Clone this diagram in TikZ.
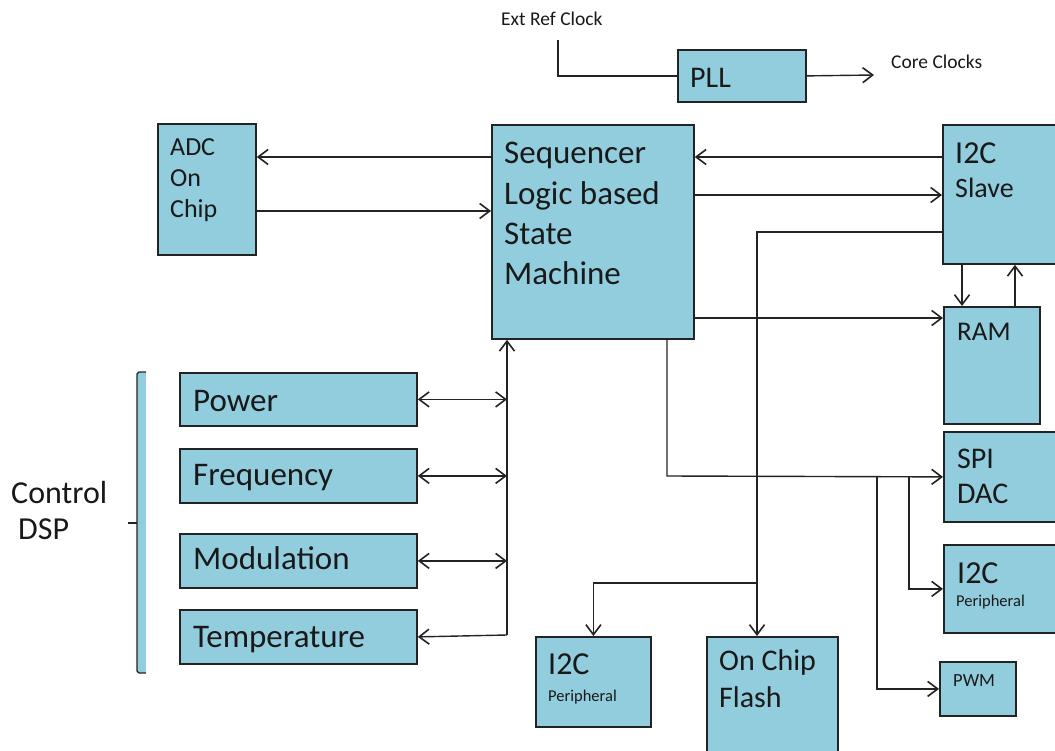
\documentclass[tikz,border=0pt]{standalone}
\usepackage{fontspec}
\setmainfont{Carlito}
\usetikzlibrary{arrows.meta}
\definecolor{boxc}{RGB}{146,205,221}
\definecolor{edgec}{RGB}{35,35,35}
\definecolor{linec}{RGB}{35,35,35}
\definecolor{txtc}{RGB}{25,25,25}
\newcommand\myfs[1]{\fontsize{#1}{#1}\selectfont}
\begin{document}
\begin{tikzpicture}[x=1pt,y=-1pt,
  blk/.style={draw=edgec, fill=boxc, line width=1.8pt, inner sep=0pt, anchor=north west},
  lbl/.style={anchor=base west, inner sep=0pt, text=txtc},
  con/.style={draw=linec, line width=1.4pt},
  arr/.style={con, -{Straight Barb[length=10pt,width=15pt,line width=1.6pt]}},
  darr/.style={con, {Straight Barb[length=10pt,width=15pt,line width=1.6pt]}-{Straight Barb[length=10pt,width=15pt,line width=1.6pt]}}]
\useasboundingbox (0,0) rectangle (1055,751);
\fill[white] (0,0) rectangle (1055,751);

% boxes
\node[blk, minimum width=128, minimum height=52] (pll) at (677,49) {};
\node[blk, minimum width=98, minimum height=131] (adc) at (157,123) {};
\node[blk, minimum width=202, minimum height=214] (seq) at (491,124) {};
\node[blk, minimum width=116, minimum height=139] (i2cs) at (942,124) {};
\node[blk, minimum width=96, minimum height=117] (ram) at (943,306) {};
\node[blk, minimum width=115, minimum height=90] (spi) at (943,431) {};
\node[blk, minimum width=115, minimum height=88] (i2cpr) at (943,544) {};
\node[blk, minimum width=76, minimum height=54] (pwm) at (939,661) {};
\node[blk, minimum width=115, minimum height=90] (i2cpb) at (535,636) {};
\node[blk, minimum width=131, minimum height=125] (flash) at (706,636) {};
\node[blk, minimum width=237, minimum height=53] (power) at (179,372) {};
\node[blk, minimum width=237, minimum height=54] (freq) at (179,448) {};
\node[blk, minimum width=237, minimum height=54] (mod) at (179,533) {};
\node[blk, minimum width=237, minimum height=54] (temp) at (179,609) {};

% labels
\node[lbl, font=\myfs{19.5}] (extl) at (501,26) {Ext Ref Clock};
\node[lbl, font=\myfs{19.5}] (corel) at (891,69) {Core Clocks};
\node[lbl, font=\myfs{30}] (plll) at (690,88) {PLL};
\node[lbl, font=\myfs{26}] (adcl1) at (170,156) {ADC};
\node[lbl, font=\myfs{26}] (adcl2) at (170,187) {On};
\node[lbl, font=\myfs{26}] (adcl3) at (170,218) {Chip};
\node[lbl, font=\myfs{33}] (seql1) at (504,164) {Sequencer};
\node[lbl, font=\myfs{33}] (seql2) at (504,205) {Logic based};
\node[lbl, font=\myfs{33}] (seql3) at (504,245) {State};
\node[lbl, font=\myfs{33}] (seql4) at (504,285) {Machine};
\node[lbl, font=\myfs{32}] (i2csl1) at (955,164) {I2C};
\node[lbl, font=\myfs{28}] (i2csl2) at (955,198) {Slave};
\node[lbl, font=\myfs{27}] (raml) at (957,341) {RAM};
\node[lbl, font=\myfs{30}] (spil1) at (957,468) {SPI};
\node[lbl, font=\myfs{30}] (spil2) at (957,503) {DAC};
\node[lbl, font=\myfs{32}] (i2cprl1) at (957,583) {I2C};
\node[lbl, font=\myfs{16.5}] (i2cprl2) at (956,606) {Peripheral};
\node[lbl, font=\myfs{18.5}] (pwml) at (953,686) {PWM};
\node[lbl, font=\myfs{32}] (i2cpbl1) at (548,674) {I2C};
\node[lbl, font=\myfs{16.5}] (i2cpbl2) at (548,701) {Peripheral};
\node[lbl, font=\myfs{30}] (flashl1) at (719,670) {On Chip};
\node[lbl, font=\myfs{30}] (flashl2) at (719,707) {Flash};
\node[lbl, font=\myfs{33}] (powerl) at (193,411) {Power};
\node[lbl, font=\myfs{33}] (freql) at (193,485) {Frequency};
\node[lbl, font=\myfs{33}] (modl) at (193,569) {Modulation};
\node[lbl, font=\myfs{33}] (templ) at (193,647) {Temperature};
\node[lbl, font=\myfs{32}] (ctrl1) at (11,503) {Control};
\node[lbl, font=\myfs{32}] (ctrl2) at (18,539) {DSP};

% bracket
\fill[boxc] (137,372) rectangle (146,673);
\draw[edgec, line width=1.4pt, line join=round] (146,372) -- (139,372) -- (137,374) -- (137,671) -- (139,673) -- (146,673);
\draw[edgec, line width=1.4pt] (128,523) -- (137,523);

% clock
\coordinate (ext) at (558,40);
\coordinate (core) at (874,75);
\draw[con] (ext) |- (pll.west);
\draw[arr] (pll.east) -- (core);

% ADC <-> sequencer
\draw[arr] (seq.west |- 0,157) -- (adc.east |- 0,157);
\draw[arr] (adc.east |- 0,211) -- (seq.west |- 0,211);

% I2C slave <-> sequencer
\draw[arr] (i2cs.west |- 0,157) -- (seq.east |- 0,157);
\draw[arr] (seq.east |- 0,195) -- (i2cs.west |- 0,195);
\draw[arr] (seq.east |- 0,318) -- (ram.west |- 0,318);
\draw[arr] (962,0 |- i2cs.south) -- (962,0 |- ram.north);
\draw[arr] (1015,0 |- ram.north) -- (1015,0 |- i2cs.south);

% I2C slave -> flash / I2C peripheral
\coordinate (fl) at (757,232);
\coordinate (br) at (757,583);
\draw[arr] (i2cs.west |- fl) -- (fl) -- (fl |- flash.north);
\draw[arr] (br) -| (i2cpb.north);

% sequencer -> SPI / I2C / PWM
\coordinate (sb) at (667,476);
\coordinate (t1) at (877,476);
\coordinate (t2) at (909,476);
\draw[arr] (sb |- seq.south) -- (sb) -- (spi.west);
\draw[arr] (t1) |- (pwm.west);
\draw[arr] (t2) |- (i2cpr.west);

% control bus
\coordinate (busb) at (507,635);
\draw[arr] (busb) -- (busb |- seq.south);
\draw[arr] (busb) -- (temp.east);
\draw[darr] (power.east) -- (power.east -| busb);
\draw[darr] (freq.east) -- (freq.east -| busb);
\draw[darr] (mod.east) -- (mod.east -| busb);
\end{tikzpicture}
\end{document}
